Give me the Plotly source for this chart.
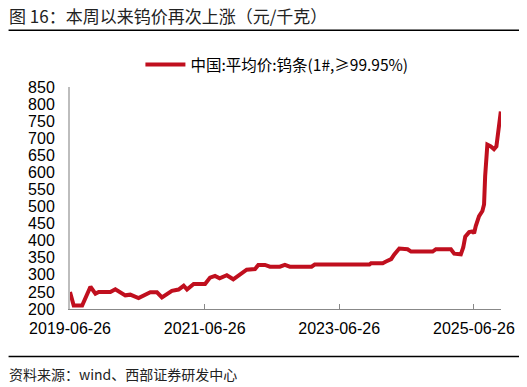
import plotly.graph_objects as go

dates = [
    "2019-06-26", "2019-07-16", "2019-08-31", "2019-10-15", "2019-11-11", "2019-11-29",
    "2020-01-31", "2020-02-27", "2020-04-21", "2020-05-18", "2020-07-02", "2020-09-04",
    "2020-10-10", "2020-11-06", "2020-12-30", "2021-02-04", "2021-03-04", "2021-03-22",
    "2021-04-27", "2021-06-28", "2021-07-25", "2021-08-21", "2021-09-15", "2021-10-14",
    "2021-10-24", "2021-11-28", "2022-01-13", "2022-02-09", "2022-03-26", "2022-04-13",
    "2022-05-19", "2022-06-15", "2022-08-08", "2022-09-04", "2022-10-01", "2023-01-27",
    "2023-02-13", "2023-12-07", "2023-12-16", "2024-02-17", "2024-03-06", "2024-04-03",
    "2024-04-20", "2024-05-17", "2024-07-01", "2024-07-20", "2024-11-14", "2024-12-02",
    "2025-02-21", "2025-03-11", "2025-04-16", "2025-04-29", "2025-05-10", "2025-05-31",
    "2025-06-18", "2025-06-27", "2025-07-06", "2025-07-24", "2025-08-11", "2025-08-20",
    "2025-08-26", "2025-09-02", "2025-09-07", "2025-09-26", "2025-10-13", "2025-10-26",
    "2025-11-06", "2025-11-13", "2025-11-19",
]
prices = [
    250, 210, 210, 265, 245, 250,
    250, 258, 240, 242, 232, 249,
    249, 234, 253, 257, 268, 257,
    273, 273, 292, 297, 290, 295,
    299, 287, 304, 315, 317, 329,
    329, 324, 324, 329, 324, 324,
    330, 330, 334, 334, 339, 346,
    360, 377, 375, 368, 368, 375,
    375, 362, 360, 380, 412, 425,
    427, 422, 443, 472, 487, 506,
    589, 671, 681, 676, 668, 676,
    715, 744, 778,
]

series_name = "中国:平均价:钨条(1#,≥99.95%)"
title_text = "图 16：本周以来钨价再次上涨（元/千克）"
source_text = "资料来源：wind、西部证券研发中心"
x_ticks = ["2019-06-26", "2021-06-26", "2023-06-26", "2025-06-26"]
y_ticks = list(range(200, 851, 50))

FONT = "Liberation Sans, Arial, Noto Sans CJK SC, sans-serif"
CJK = "Noto Sans CJK SC, Liberation Sans, sans-serif"
RED = "#C00F1E"

# page has an 8px body margin; the figure fills the rest of the window
OFF = 8
W, H = 527 - OFF, 387 - OFF
ML = 69.5 - OFF
MR = W - (501 - OFF)
MT = 87 - OFF
MB = H - (309.5 - OFF)
pw = W - ML - MR
ph = H - MT - MB


def px_x(x):
    return (x - OFF - ML) / pw


def px_y(y):
    return (H - MB - (y - OFF)) / ph


fig = go.Figure()
fig.add_trace(go.Scatter(
    x=dates, y=prices, mode="lines", name=series_name,
    line=dict(color=RED, width=4),
))

fig.update_layout(
    width=W, height=H,
    margin=dict(l=ML, r=MR, t=MT, b=MB, autoexpand=False),
    paper_bgcolor="white", plot_bgcolor="white",
    font=dict(family=FONT, size=16, color="#000000"),
    showlegend=True,
    legend=dict(
        orientation="h", x=px_x(140), y=px_y(65),
        xanchor="left", yanchor="middle",
        font=dict(family=CJK, size=15.5, color="#000000"),
        bgcolor="rgba(0,0,0,0)", itemwidth=40,
    ),
    xaxis=dict(
        type="date", range=["2019-06-26", "2025-11-20"],
        tickvals=x_ticks, ticktext=x_ticks,
        showgrid=False, zeroline=False,
        showline=True, linecolor="#888888", linewidth=1,
        ticks="inside", ticklen=5, tickcolor="#888888",
        ticklabelstandoff=5,
        tickfont=dict(size=16),
    ),
    yaxis=dict(
        range=[200, 850], tickvals=y_ticks,
        showgrid=False, zeroline=False,
        showline=True, linecolor="#BDBDBD", linewidth=2,
        ticks="", ticklabelstandoff=10,
        tickfont=dict(size=16),
    ),
)

fig.add_annotation(
    text=title_text, xref="paper", yref="paper",
    x=px_x(6), y=px_y(15),
    xanchor="left", yanchor="middle", showarrow=False,
    font=dict(family=CJK, size=17, color="#222222"),
)
fig.add_annotation(
    text=source_text, xref="paper", yref="paper",
    x=px_x(6), y=px_y(375),
    xanchor="left", yanchor="middle", showarrow=False,
    font=dict(family=CJK, size=14, color="#222222"),
)
for ypix in (30, 357):
    fig.add_shape(
        type="line", xref="paper", yref="paper",
        x0=px_x(8), x1=px_x(520),
        y0=px_y(ypix), y1=px_y(ypix),
        line=dict(color="#000000", width=1.5),
    )

fig.write_html("out.html")
